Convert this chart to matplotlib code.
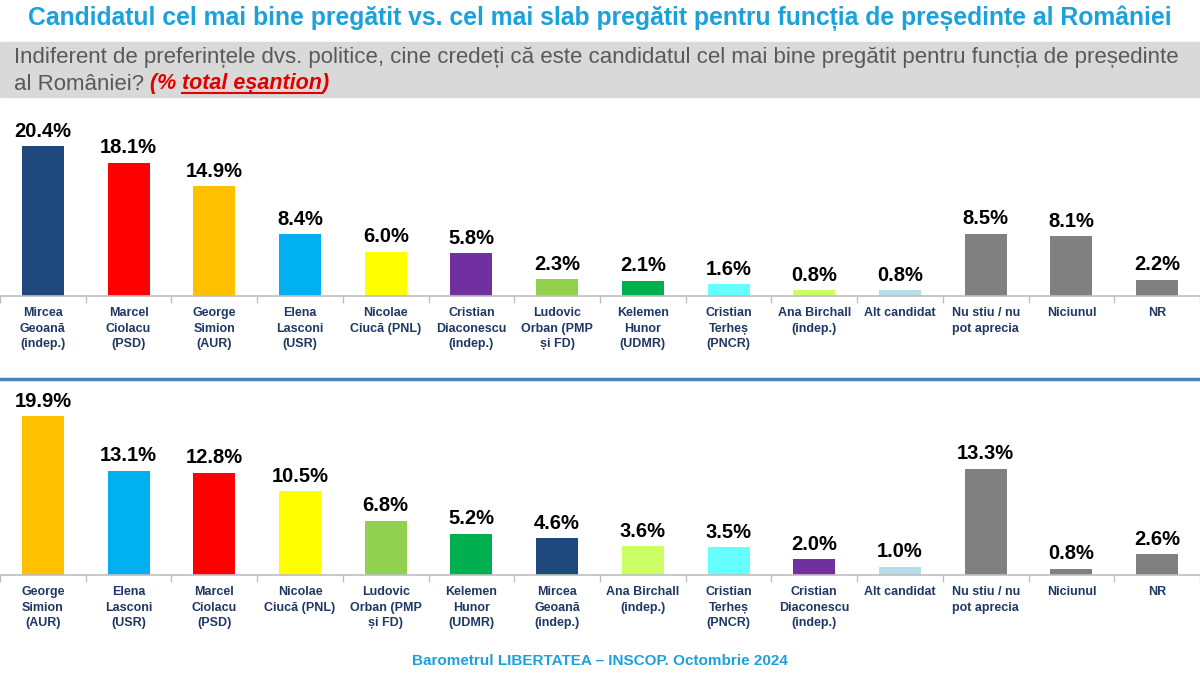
import numpy as np
import matplotlib.pyplot as plt

plt.rcParams['font.family'] = ['Liberation Sans', 'DejaVu Sans']

# date - cel mai bine pregatit
top_labels = ['Mircea\nGeoană\n(indep.)', 'Marcel\nCiolacu\n(PSD)', 'George\nSimion\n(AUR)',
              'Elena\nLasconi\n(USR)', 'Nicolae\nCiucă (PNL)', 'Cristian\nDiaconescu\n(indep.)',
              'Ludovic\nOrban (PMP\nși FD)', 'Kelemen\nHunor\n(UDMR)', 'Cristian\nTerheș\n(PNCR)',
              'Ana Birchall\n(indep.)', 'Alt candidat', 'Nu stiu / nu\npot aprecia',
              'Niciunul', 'NR']
top_values = [20.4, 18.1, 14.9, 8.4, 6.0, 5.8, 2.3, 2.1, 1.6, 0.8, 0.8, 8.5, 8.1, 2.2]
top_colors = ['#1F497D', '#FF0000', '#FFC000', '#00B0F0', '#FFFF00', '#7030A0', '#92D050',
              '#00B050', '#66FFFF', '#CCFF66', '#B7DEE8', '#808080', '#808080', '#808080']

# date - cel mai slab pregatit
bot_labels = ['George\nSimion\n(AUR)', 'Elena\nLasconi\n(USR)', 'Marcel\nCiolacu\n(PSD)',
              'Nicolae\nCiucă (PNL)', 'Ludovic\nOrban (PMP\nși FD)', 'Kelemen\nHunor\n(UDMR)',
              'Mircea\nGeoană\n(indep.)', 'Ana Birchall\n(indep.)', 'Cristian\nTerheș\n(PNCR)',
              'Cristian\nDiaconescu\n(indep.)', 'Alt candidat', 'Nu stiu / nu\npot aprecia',
              'Niciunul', 'NR']
bot_values = [19.9, 13.1, 12.8, 10.5, 6.8, 5.2, 4.6, 3.6, 3.5, 2.0, 1.0, 13.3, 0.8, 2.6]
bot_colors = ['#FFC000', '#00B0F0', '#FF0000', '#FFFF00', '#92D050', '#00B050', '#1F497D',
              '#CCFF66', '#66FFFF', '#7030A0', '#B7DEE8', '#808080', '#808080', '#808080']

W, H = 1200, 675
fig = plt.figure(figsize=(12, 6.75), dpi=100)
fig.patch.set_facecolor('white')


def draw_bars(rect, labels, values, colors, ymax):
    ax = fig.add_axes(rect)
    x = np.arange(len(values))
    ax.bar(x, values, width=0.49, color=colors, zorder=2)
    for xi, v in zip(x, values):
        ax.annotate(f'{v:.1f}%', (xi, v), xytext=(0, 4), textcoords='offset points',
                    ha='center', va='bottom', fontsize=14.5, fontweight='bold', color='black')
    ax.set_xlim(-0.5, len(values) - 0.5)
    ax.set_ylim(0, ymax)
    ax.set_xticks(x)
    ax.set_xticklabels(labels, fontsize=9, fontweight='bold', color='#1F3864',
                       linespacing=1.4)
    ax.tick_params(axis='x', which='major', length=0, pad=8)
    ax.set_xticks(np.arange(len(values) + 1) - 0.5, minor=True)
    ax.tick_params(axis='x', which='minor', length=5, color='#BFBFBF', width=1)
    ax.set_yticks([])
    for s in ['top', 'right', 'left']:
        ax.spines[s].set_visible(False)
    ax.spines['bottom'].set_color('#BFBFBF')
    ax.spines['bottom'].set_linewidth(1.2)
    ax.set_facecolor('none')
    return ax


# top chart: baseline 296px, 7.35 px per unit
h1 = 180
draw_bars([0, 1 - 296 / H, 1, h1 / H], top_labels, top_values, top_colors, h1 / 7.35)
# bottom chart: baseline 575px, 7.97 px per unit
h2 = 170
draw_bars([0, 1 - 575 / H, 1, h2 / H], bot_labels, bot_values, bot_colors, h2 / 7.97)

# grey band
fig.patches.append(plt.Rectangle((0, 1 - 97 / H), 1, 55 / H, transform=fig.transFigure,
                                 color='#D9D9D9', zorder=0))
# separator line
fig.add_artist(plt.Line2D([0, 1], [1 - 379 / H, 1 - 379 / H], transform=fig.transFigure,
                          color='#4F81BD', linewidth=2.5))

fig.text(0.5, 1 - 18 / H,
         'Candidatul cel mai bine pregătit vs. cel mai slab pregătit pentru funcția de președinte al României',
         ha='center', va='center', fontsize=17.8, fontweight='bold', color='#1BA1DC')
fig.text(14 / W, 1 - 57 / H,
         'Indiferent de preferințele dvs. politice, cine credeți că este candidatul cel mai bine pregătit pentru funcția de președinte',
         ha='left', va='center', fontsize=16, color='#595959')
t1 = fig.text(14 / W, 1 - 84 / H, 'al României? ', ha='left', va='center', fontsize=16,
              color='#595959')

renderer = fig.canvas.get_renderer()
bb = t1.get_window_extent(renderer)
t2 = fig.text(bb.x1 / W, 1 - 84 / H, '(% ', ha='left', va='center', fontsize=15.5,
              fontweight='bold', fontstyle='italic', color='#E00000')
bb = t2.get_window_extent(renderer)
t3 = fig.text(bb.x1 / W, 1 - 84 / H, 'total eșantion', ha='left', va='center', fontsize=15.5,
              fontweight='bold', fontstyle='italic', color='#E00000')
bb3 = t3.get_window_extent(renderer)
fig.add_artist(plt.Line2D([bb3.x0 / W, bb3.x1 / W], [(bb3.y0 + 2) / H, (bb3.y0 + 2) / H],
                          transform=fig.transFigure, color='#E00000', linewidth=1.5))
fig.text(bb3.x1 / W, 1 - 84 / H, ')', ha='left', va='center', fontsize=15.5,
         fontweight='bold', fontstyle='italic', color='#E00000')

fig.text(0.5, 1 - 661 / H, 'Barometrul LIBERTATEA – INSCOP. Octombrie 2024', ha='center',
         va='center', fontsize=11, fontweight='bold', color='#1BA1DC')

fig.savefig('out.png', dpi=100)
